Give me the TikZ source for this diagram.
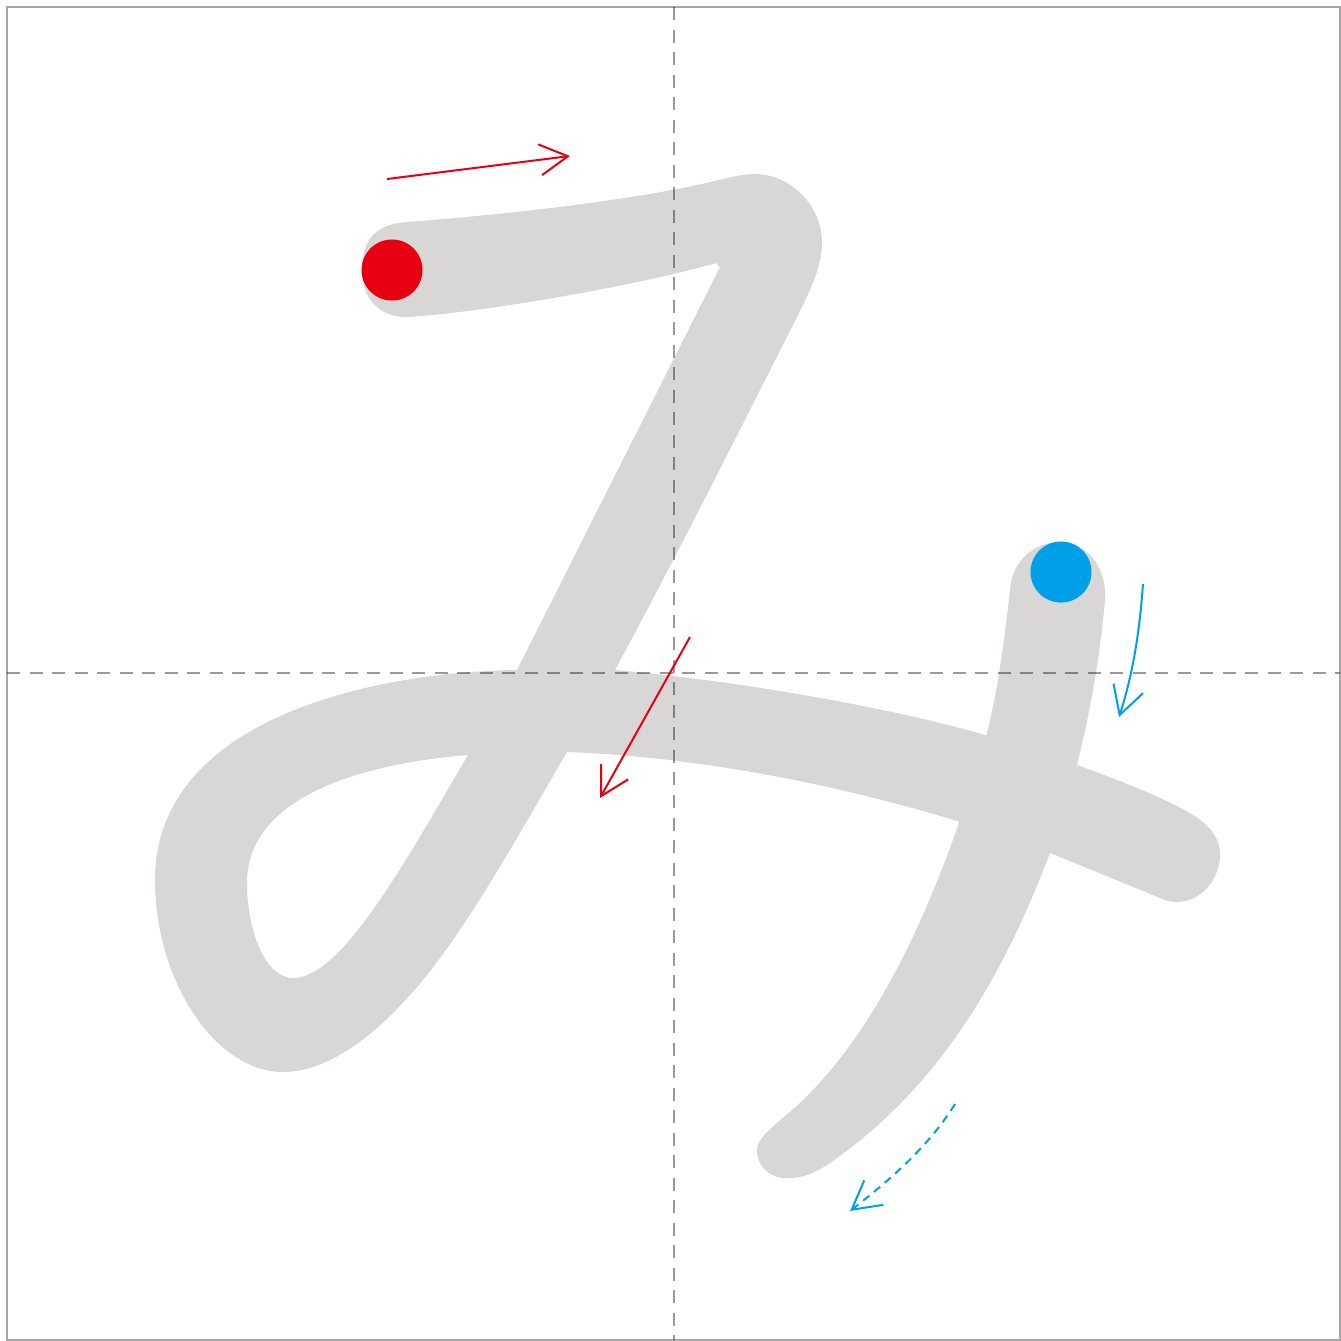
\documentclass[tikz,border=0pt]{standalone}
\usepackage{xcolor}
\usepackage{tikz}
\usetikzlibrary{arrows.meta}
\definecolor{strokegray}{HTML}{D8D7D6}
\definecolor{startred}{HTML}{E60012}
\definecolor{startblue}{HTML}{00A0E9}
\definecolor{framegray}{HTML}{A6A6A6}
\tikzset{
  framebox/.style={draw=framegray, line width=0.025cm},
  guideline/.style={draw=black, draw opacity=0.4, line width=0.025cm,
    dash pattern=on 0.13cm off 0.095cm},
  strokeshape/.style={fill=strokegray, draw=none, even odd rule},
  startdot/.style={fill=#1, draw=none},
  startdot/.default=startred,
  dirarrow/.style={
    -{Straight Barb[length=0.28cm, width=0.31cm]}, line width=0.02cm, draw=#1
  },
  dirarrow/.default=startred,
}
\begin{document}
\begin{tikzpicture}[x=0.01cm, y=-0.01cm]
\useasboundingbox (0,0) rectangle (1341,1341);

% frame
\draw[framebox] (7,7) rectangle (1340,1340);

% ── stroke 1: top bar, diagonal, loop and long bar ──
\path[strokeshape]
  (407,222) .. controls (500,215) and (640,200) .. (723,179)
  .. controls (735,176) and (745,174) .. (755,174)
  .. controls (790,174) and (822,205) .. (822,243)
  .. controls (822,262) and (815,280) .. (803,305)
  .. controls (760,390) and (680,550) .. (615,670)
  .. controls (750,682) and (900,710) .. (985,735)
  .. controls (1060,757) and (1150,790) .. (1190,813)
  .. controls (1210,825) and (1220,838) .. (1220,855)
  .. controls (1220,880) and (1200,902) .. (1177,902)
  .. controls (1168,902) and (1160,898) .. (1148,893)
  -- (1050,853)
  .. controls (980,825) and (780,760) .. (567,752)
  .. controls (510,850) and (460,940) .. (410,995)
  .. controls (370,1040) and (325,1072) .. (283,1072)
  .. controls (215,1072) and (155,980) .. (155,880)
  .. controls (155,720) and (370,672) .. (517,670)
  -- (720,267) -- (716,263)
  .. controls (640,285) and (480,313) .. (407,317)
  .. controls (380,317) and (362,300) .. (362,270)
  .. controls (362,235) and (380,224) .. (407,222) -- cycle
  (468,755) .. controls (405,862) and (342,978) .. (293,978)
  .. controls (265,978) and (247,930) .. (247,883)
  .. controls (247,790) and (380,762) .. (468,755) -- cycle;

% ── stroke 2: down-left sweep ──
\path[strokeshape]
  (1010,590) .. controls (1000,680) and (990,740) .. (960,820)
  .. controls (920,935) and (870,1035) .. (803,1100)
  .. controls (785,1118) and (757,1135) .. (757,1150)
  .. controls (757,1170) and (775,1180) .. (790,1178)
  .. controls (805,1178) and (820,1170) .. (830,1163)
  .. controls (935,1090) and (1000,985) .. (1050,853)
  .. controls (1080,770) and (1098,680) .. (1105,600)
  .. controls (1107,565) and (1085,542) .. (1060,542)
  .. controls (1035,542) and (1012,560) .. (1010,590) -- cycle;

% guide lines
\draw[guideline] (674,7) -- (674,1340);
\draw[guideline] (7,673) -- (1340,673);

% start points
\fill[startdot] (392,270) circle [radius=0.305cm];
\fill[startdot=startblue] (1061,572) circle [radius=0.305cm];

% direction arrows
\coordinate (r1a) at (387,179);
\coordinate (r1b) at (570,156);
\coordinate (r2a) at (690,637);
\coordinate (r2b) at (600,798);
\coordinate (b1a) at (1143,584);
\coordinate (b1b) at (1119,717);
\coordinate (b2a) at (955,1104);
\coordinate (b2b) at (850,1211);
\draw[dirarrow] (r1a) -- (r1b);
\draw[dirarrow] (r2a) -- (r2b);
\draw[dirarrow=startblue] (b1a) .. controls (1139,640) and (1131,680) .. (b1b);
\draw[dirarrow=startblue, dash pattern=on 0.08cm off 0.06cm]
  (b2a) .. controls (930,1145) and (890,1180) .. (b2b);

\end{tikzpicture}
\end{document}
